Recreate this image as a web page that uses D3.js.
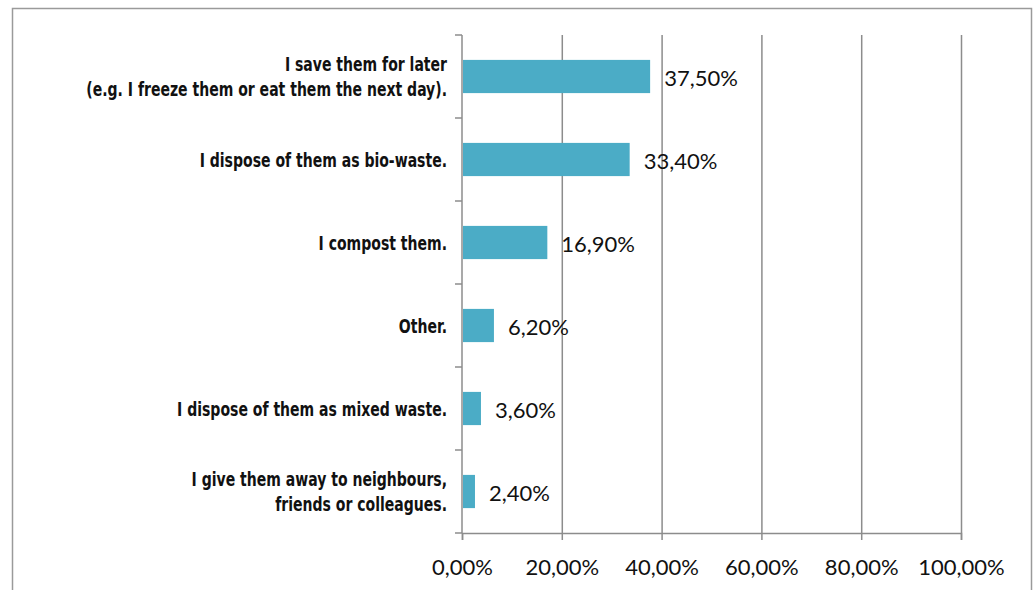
<!DOCTYPE html>
<html>
<head>
<meta charset="utf-8">
<script src="https://cdnjs.cloudflare.com/ajax/libs/d3/7.8.5/d3.min.js"></script>
<style>
  body { margin: 0; background: #fff; }
  .cat { font-family: "DejaVu Sans Condensed", "Roboto", sans-serif; font-weight: bold; font-size: 20px; fill: #111; }
  .val, .tick text { font-family: Lato, "Open Sans", sans-serif; font-size: 22px; fill: #111; }
</style>
</head>
<body>
<svg id="chart" width="1035" height="590"></svg>
<script>
// answers, top to bottom
const categories = [
  ["I save them for later", "(e.g. I freeze them or eat them the next day)."],
  ["I dispose of them as bio-waste."],
  ["I compost them."],
  ["Other."],
  ["I dispose of them as mixed waste."],
  ["I give them away to neighbours,", "friends or colleagues."]
];
const values = [37.5, 33.4, 16.9, 6.2, 3.6, 2.4];
const tickValues = [0, 20, 40, 60, 80, 100];

const margin = {left: 462, right: 74, top: 35, bottom: 57};
const width = 1035, height = 590;
const fmt = v => d3.format(".2f")(v).replace(".", ",") + "%";

const svg = d3.select("#chart");

// outer frame (bottom edge runs off the picture)
svg.append("path")
  .attr("d", "M12.5,600 V8.5 H1031.5 V600")
  .attr("fill", "none")
  .attr("stroke", "#9a9a9a")
  .attr("stroke-width", 1.5);

let x = d3.scaleLinear()
  .domain([0, 100])
  .range([margin.left, width - margin.right]);

let y = d3.scaleBand()
  .domain(d3.range(categories.length))
  .range([margin.top, height - margin.bottom])
  .paddingInner(0.6)
  .paddingOuter(0.3);

// gridlines
svg.append("g")
  .selectAll("line")
  .data(tickValues.slice(1))
  .enter()
  .append("line")
  .attr("x1", d => x(d) + 0.5).attr("x2", d => x(d) + 0.5)
  .attr("y1", margin.top).attr("y2", height - margin.bottom)
  .attr("stroke", "#8c8c8c")
  .attr("stroke-width", 1.5);

// bars
svg.append("g")
  .selectAll("rect")
  .data(values)
  .enter()
  .append("rect")
  .attr("x", x(0) + 1)
  .attr("y", (d, i) => y(i))
  .attr("width", d => x(d) - x(0))
  .attr("height", y.bandwidth())
  .attr("fill", "#4bacc6");

// value labels
svg.append("g")
  .selectAll("text")
  .data(values)
  .enter()
  .append("text")
  .attr("class", "val")
  .attr("x", d => x(d) + 15)
  .attr("y", (d, i) => y(i) + y.bandwidth() / 2 + 2)
  .attr("dy", "0.35em")
  .text(d => fmt(d));

// x axis
let xAxis = d3.axisBottom(x)
  .tickValues(tickValues)
  .tickSize(7)
  .tickPadding(19)
  .tickFormat(fmt);

let gx = svg.append("g")
  .attr("transform", "translate(0," + (height - margin.bottom) + ")")
  .call(xAxis);
gx.select(".domain").attr("stroke", "#8c8c8c").attr("stroke-width", 1.5);
gx.selectAll(".tick line").attr("stroke", "#8c8c8c").attr("stroke-width", 1.5);

// y axis line with boundary ticks
let step = y.step();
let bounds = d3.range(categories.length + 1).map(i => margin.top + i * step);
let gy = svg.append("g");
gy.append("line")
  .attr("x1", x(0)).attr("x2", x(0))
  .attr("y1", margin.top).attr("y2", height - margin.bottom)
  .attr("stroke", "#8c8c8c").attr("stroke-width", 1.5);
gy.selectAll("line.b")
  .data(bounds)
  .enter()
  .append("line")
  .attr("class", "b")
  .attr("x1", x(0) - 7).attr("x2", x(0))
  .attr("y1", d => d).attr("y2", d => d)
  .attr("stroke", "#8c8c8c").attr("stroke-width", 1.5);

// category labels (squeezed sideways to mimic a condensed face)
let lab = svg.append("g")
  .selectAll("text")
  .data(categories)
  .enter()
  .append("text")
  .attr("class", "cat")
  .attr("text-anchor", "end")
  .attr("transform", (d, i) => "translate(" + (x(0) - 15) + "," + (y(i) + y.bandwidth() / 2) + ") scale(0.78,1)");

lab.selectAll("tspan")
  .data(d => d.map((t, j) => ({t: t, j: j, n: d.length})))
  .enter()
  .append("tspan")
  .attr("x", 0)
  .attr("y", d => (d.j - (d.n - 1) / 2) * 25)
  .attr("dy", "0.35em")
  .text(d => d.t);
</script>
</body>
</html>
